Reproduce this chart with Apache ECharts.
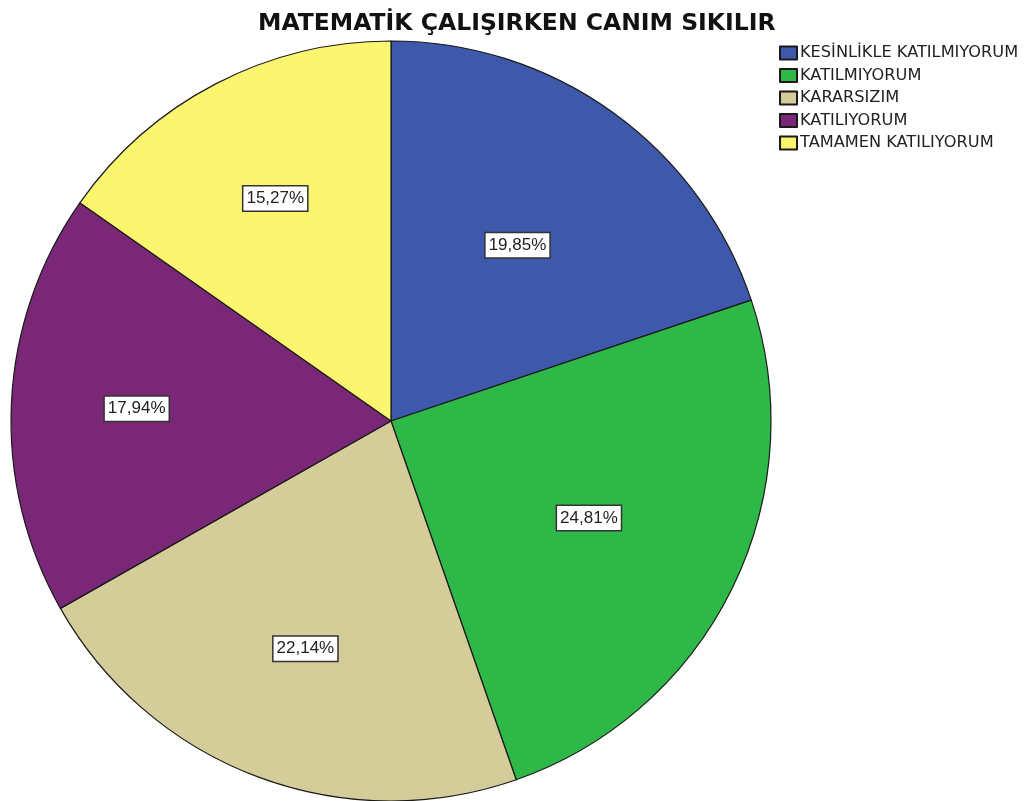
<!DOCTYPE html>
<html>
<head>
<meta charset="utf-8">
<script src="https://cdn.jsdelivr.net/npm/echarts@6/dist/echarts.min.js"></script>
<style>
  html, body { margin: 0; padding: 0; background: #fff; }
  #chart { width: 1026px; height: 801px; }
</style>
</head>
<body>
<div id="chart"></div>
<script>
// Survey answers and their shares (%)
const categories = [
  'KESİNLİKLE KATILMIYORUM',
  'KATILMIYORUM',
  'KARARSIZIM',
  'KATILIYORUM',
  'TAMAMEN KATILIYORUM'
];
const percentages = [19.85, 24.81, 22.14, 17.94, 15.27];
const sliceColors = ['#3E58AC', '#2EB848', '#D4CD99', '#7B2777', '#FBF570'];

// Pie geometry and how far out (fraction of radius) each value box sits
const CX = 391, CY = 421, R = 380;
const labelRadius = [0.57, 0.58, 0.64, 0.67, 0.66];

const chart = echarts.init(document.getElementById('chart'));

const total = percentages.reduce((a, b) => a + b, 0);
const midAngles = [];
let acc = 0;
percentages.forEach(v => {
  midAngles.push((acc + v / 2) / total * 2 * Math.PI);
  acc += v;
});

chart.setOption({
  animation: false,
  title: {
    text: 'MATEMATİK ÇALIŞIRKEN CANIM SIKILIR',
    left: 253,
    top: 7,
    textStyle: {
      fontFamily: 'DejaVu Sans, sans-serif',
      fontSize: 23.5,
      fontWeight: 'bold',
      color: '#111'
    }
  },
  legend: {
    orient: 'vertical',
    left: 774,
    top: 40,
    itemWidth: 17,
    itemHeight: 13,
    itemGap: 6.5,
    icon: 'rect',
    data: categories,
    textStyle: {
      fontFamily: 'DejaVu Sans, sans-serif',
      fontSize: 16.2,
      lineHeight: 16,
      color: '#222',
      padding: [0, 0, 0, -2]
    }
  },
  series: [{
    type: 'pie',
    center: [CX, CY],
    radius: [0, R],
    startAngle: 90,
    clockwise: true,
    avoidLabelOverlap: false,
    itemStyle: { borderColor: '#1a1a1a', borderWidth: 1.2 },
    label: {
      show: true,
      position: 'inside',
      formatter: p => p.value.toFixed(2).replace('.', ',') + '%',
      fontFamily: 'Liberation Sans, Arial, sans-serif',
      fontSize: 17,
      color: '#222',
      backgroundColor: '#fff',
      borderColor: '#333',
      borderWidth: 1.5,
      padding: [4, 3, 3, 3]
    },
    labelLine: { show: false },
    labelLayout: params => {
      const i = params.dataIndex;
      const a = midAngles[i];
      const d = labelRadius[i] * R;
      return { x: CX + Math.sin(a) * d, y: CY - Math.cos(a) * d };
    },
    emphasis: { disabled: true },
    data: categories.map((name, i) => ({
      name,
      value: percentages[i],
      itemStyle: { color: sliceColors[i] }
    }))
  }]
});
</script>
</body>
</html>
